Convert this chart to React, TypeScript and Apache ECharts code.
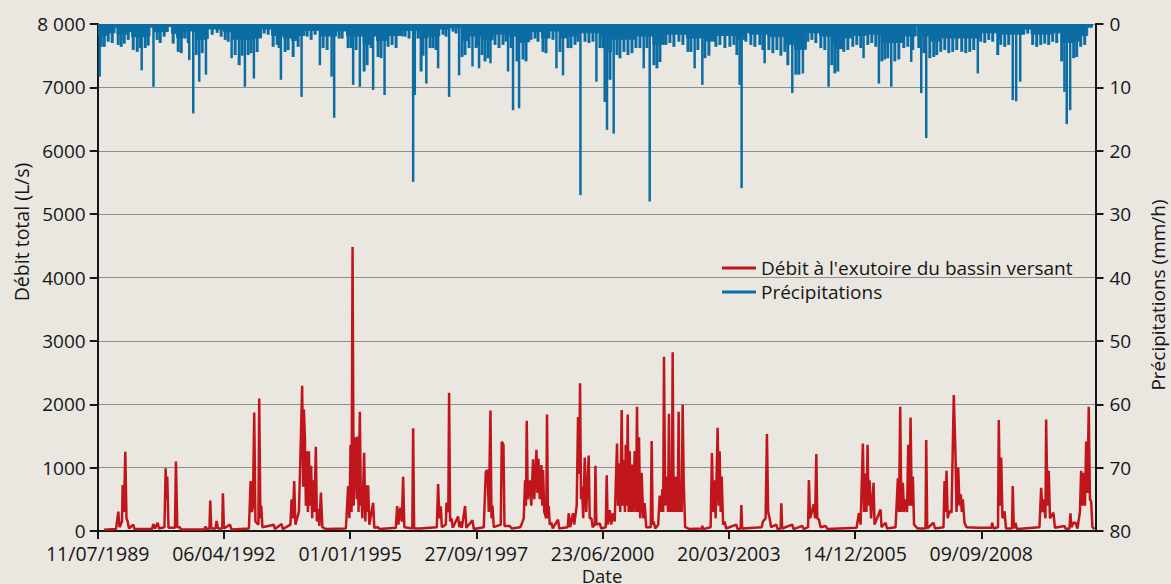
import React, { useEffect, useRef } from "react";
import * as echarts from "echarts";

// ---- data (time as decimal years) ----
const FLOW_NAME = "Débit à l'exutoire du bassin versant";
const PRECIP_NAME = "Précipitations";

const discharge: [number, number][] = [
  [1989.660,20],[1989.920,30],[1989.970,305],[1989.996,60],[1990.050,150],[1990.065,725],[1990.093,300],[1990.121,1250],[1990.147,200],[1990.173,150],[1990.202,40],[1990.295,100],[1990.321,30],
  [1990.700,30],[1990.728,110],[1990.765,40],[1990.824,130],[1990.852,40],[1990.971,60],[1990.997,990],[1991.014,500],[1991.032,860],[1991.058,50],[1991.199,50],[1991.220,1095],[1991.249,60],[1991.307,60],[1991.329,25],
  [1991.827,25],[1991.864,70],[1991.892,25],[1991.947,40],[1991.964,480],[1991.986,40],[1992.077,40],[1992.103,160],[1992.131,40],[1992.224,40],[1992.239,595],[1992.261,40],[1992.391,100],[1992.424,25],
  [1992.803,40],[1992.840,790],[1992.868,300],[1992.890,400],[1992.918,1870],[1992.944,150],[1993.009,100],[1993.026,2090],[1993.052,200],[1993.070,400],[1993.096,60],[1993.345,100],[1993.367,30],[1993.512,110],[1993.540,30],
  [1993.703,100],[1993.729,500],[1993.757,200],[1993.785,790],[1993.811,100],[1993.887,300],[1993.919,1150],[1993.958,2290],[1993.980,700],[1993.995,1920],[1994.017,1500],[1994.039,400],[1994.060,1260],[1994.082,300],[1994.104,1260],[1994.125,400],[1994.153,1030],[1994.175,200],[1994.197,800],[1994.223,300],[1994.255,1330],[1994.277,150],[1994.305,350],[1994.331,80],[1994.364,605],[1994.396,60],[1994.472,30],
  [1994.906,40],[1994.956,710],[1994.982,200],[1995.008,1360],[1995.029,300],[1995.051,4480],[1995.075,400],[1995.101,1100],[1995.122,1480],[1995.144,500],[1995.159,1490],[1995.181,300],[1995.209,1880],[1995.231,400],[1995.246,600],[1995.263,200],[1995.302,1235],[1995.328,150],[1995.354,720],[1995.372,300],[1995.389,720],[1995.415,100],[1995.497,445],[1995.523,50],[1995.599,60],[1995.643,30],
  [1995.990,50],[1996.018,395],[1996.044,100],[1996.087,370],[1996.120,150],[1996.148,857],[1996.174,60],[1996.347,40],[1996.365,1620],[1996.386,40],[1996.510,40],
  [1996.878,60],[1996.907,740],[1996.933,200],[1996.965,390],[1996.987,60],[1997.074,100],[1997.089,450],[1997.128,300],[1997.145,2180],[1997.167,150],[1997.197,200],[1997.225,50],[1997.340,230],[1997.366,60],[1997.392,150],[1997.420,50],[1997.492,395],[1997.518,50],[1997.652,170],[1997.680,30],
  [1997.897,60],[1997.941,935],[1997.977,960],[1998.006,300],[1998.042,1900],[1998.064,200],[1998.086,400],[1998.114,60],[1998.266,100],[1998.287,1410],[1998.324,1360],[1998.346,80],[1998.461,80],[1998.504,40],
  [1998.688,60],[1998.715,100],[1998.764,200],[1998.793,800],[1998.812,400],[1998.829,1740],[1998.851,500],[1998.894,800],[1998.927,400],[1998.966,1130],[1998.992,500],[1999.040,1280],[1999.061,600],[1999.083,1140],[1999.111,500],[1999.148,1040],[1999.165,400],[1999.183,960],[1999.209,300],[1999.252,200],[1999.269,1840],[1999.289,200],[1999.306,395],[1999.328,100],[1999.365,130],[1999.393,40],[1999.508,180],[1999.534,40],
  [1999.718,60],[1999.740,280],[1999.772,60],[1999.833,280],[1999.859,100],[1999.913,400],[1999.942,1800],[1999.968,900],[1999.985,2330],[2000.007,500],[2000.028,700],[2000.054,200],[2000.087,1160],[2000.119,300],[2000.173,1190],[2000.195,200],[2000.232,200],[2000.260,60],[2000.304,100],[2000.319,1030],[2000.340,100],[2000.412,120],[2000.444,40],
  [2000.542,60],[2000.564,880],[2000.585,100],[2000.629,330],[2000.661,100],[2000.700,280],[2000.737,150],[2000.787,1380],[2000.809,400],[2000.830,1070],[2000.856,300],[2000.889,1910],[2000.911,400],[2000.939,1120],[2000.958,300],[2000.976,1360],[2000.997,400],[2001.019,1840],[2001.041,300],[2001.062,1260],[2001.088,300],[2001.112,1050],[2001.138,300],[2001.171,1260],[2001.197,300],[2001.221,1960],[2001.242,300],[2001.264,1480],[2001.290,200],[2001.322,920],[2001.355,200],[2001.387,440],[2001.420,60],
  [2001.518,60],[2001.539,1420],[2001.561,100],[2001.583,150],[2001.615,40],[2001.680,100],[2001.713,560],[2001.745,300],[2001.771,660],[2001.789,300],[2001.806,2750],[2001.832,400],[2001.871,860],[2001.893,300],[2001.914,1850],[2001.936,300],[2001.962,860],[2001.977,300],[2001.994,2820],[2002.016,300],[2002.038,860],[2002.059,300],[2002.081,860],[2002.103,300],[2002.124,1880],[2002.146,300],[2002.168,800],[2002.190,300],[2002.211,1990],[2002.233,800],[2002.265,60],[2002.363,30],
  [2002.623,40],[2002.638,80],[2002.656,30],[2002.818,60],[2002.846,1230],[2002.872,300],[2002.894,800],[2002.927,200],[2002.970,1630],[2002.992,400],[2003.013,1260],[2003.035,300],[2003.057,860],[2003.089,100],[2003.122,150],[2003.154,40],[2003.375,100],[2003.403,30],[2003.469,40],[2003.484,410],[2003.501,40],
  [2003.924,60],[2003.952,150],[2004.010,200],[2004.039,1530],[2004.065,300],[2004.097,200],[2004.130,60],[2004.242,100],[2004.271,30],[2004.336,40],[2004.351,437],[2004.368,40],[2004.589,100],[2004.617,30],[2004.806,80],[2004.834,30],
  [2004.932,60],[2004.949,805],[2004.975,200],[2005.008,290],[2005.051,420],[2005.084,200],[2005.110,1215],[2005.131,200],[2005.166,180],[2005.203,60],[2005.311,80],[2005.355,30],
  [2005.983,50],[2006.033,280],[2006.070,100],[2006.120,1380],[2006.146,300],[2006.172,905],[2006.196,300],[2006.222,1360],[2006.243,400],[2006.265,800],[2006.298,200],[2006.352,760],[2006.373,100],[2006.503,340],[2006.525,60],[2006.612,130],[2006.644,40],
  [2006.829,60],[2006.879,830],[2006.904,300],[2006.930,1960],[2006.954,300],[2006.987,760],[2007.013,300],[2007.045,500],[2007.078,300],[2007.104,1360],[2007.128,400],[2007.154,1790],[2007.180,400],[2007.204,860],[2007.230,100],[2007.306,40],[2007.479,40],[2007.494,1435],[2007.516,40],[2007.652,130],[2007.685,40],
  [2007.869,60],[2007.891,790],[2007.912,300],[2007.934,950],[2007.960,200],[2007.999,315],[2008.043,290],[2008.092,2145],[2008.129,1200],[2008.151,300],[2008.188,1000],[2008.216,400],[2008.244,580],[2008.266,300],[2008.288,500],[2008.324,130],[2008.368,60],[2008.606,50],
  [2008.910,50],[2008.925,130],[2008.953,40],[2009.051,60],[2009.068,1750],[2009.094,400],[2009.120,1160],[2009.148,200],[2009.192,315],[2009.224,40],[2009.354,40],[2009.371,710],[2009.393,40],[2009.430,130],[2009.462,30],
  [2009.950,60],[2009.987,680],[2010.015,300],[2010.048,500],[2010.080,200],[2010.095,1760],[2010.124,400],[2010.152,950],[2010.178,200],[2010.254,290],[2010.286,50],[2010.492,80],[2010.525,30],[2010.601,40],[2010.622,280],[2010.644,60],[2010.687,130],[2010.731,130],[2010.774,40],[2010.828,300],[2010.854,950],[2010.882,400],[2010.904,920],[2010.937,400],[2010.963,1410],[2010.991,600],[2011.019,1960],[2011.045,500],[2011.071,470],[2011.099,60],[2011.142,30],
];

// near-continuous light precipitation (mm/h)
const precipBand: [number, number][] = [
  [1989.530,1.8],[1989.595,1.8],[1989.718,1.4],[1989.898,0.5],[1989.941,1.6],[1990.152,1.2],[1990.260,2.0],[1990.512,1.9],[1990.657,0.5],[1990.733,1.2],[1991.054,0.4],[1991.127,1.5],[1991.236,2.2],[1991.379,1.1],[1991.654,2.4],[1991.849,2.3],[1991.921,0.8],[1992.246,1.2],[1992.428,2.4],[1992.571,2.5],[1992.753,2.4],[1992.933,2.2],[1993.078,0.8],[1993.295,1.8],[1993.546,2.2],[1993.729,2.6],[1993.837,1.8],[1994.017,1.0],[1994.342,1.9],[1994.704,1.1],[1994.921,1.9],[1995.281,3.2],[1995.426,1.9],[1995.571,2.6],[1995.788,1.8],[1996.076,1.9],[1996.148,1.0],[1996.510,2.2],[1996.683,1.9],[1996.943,0.8],[1997.160,0.6],[1997.414,2.6],[1997.557,1.9],[1997.847,2.5],[1998.099,1.6],[1998.461,1.9],[1998.606,2.9],[1998.715,2.8],[1998.894,1.2],[1999.148,2.2],[1999.291,1.1],[1999.545,2.2],[1999.690,1.9],[1999.907,1.4],[2000.412,1.9],[2000.607,4.4],[2000.672,2.4],[2001.171,1.9],[2001.566,3.2],[2001.821,1.6],[2002.291,2.2],[2002.688,2.7],[2002.905,1.8],[2003.375,2.4],[2003.555,1.4],[2003.664,1.6],[2004.060,2.0],[2004.459,3.2],[2004.639,4.0],[2004.893,1.4],[2005.181,1.9],[2005.435,3.2],[2005.543,3.9],[2005.686,2.2],[2005.868,1.8],[2006.193,1.6],[2006.519,2.9],[2006.807,2.9],[2006.987,1.9],[2007.277,0.3],[2007.312,1.9],[2007.566,2.7],[2007.782,2.2],[2008.650,1.4],[2009.046,2.4],[2009.083,1.6],[2009.588,0.8],[2009.770,1.6],[2010.204,1.4],[2010.421,2.9],[2010.666,2.7],[2010.817,1.8],[2010.997,0.5],[2011.099,0],
];

// frequent moderate showers (mm/h)
const precipShowers: [number, number][] = [
  [1989.594,3.6],[1989.660,3.6],[1989.746,2.8],[1989.833,3.0],[1989.963,3.3],[1990.028,3.6],[1990.093,3.1],[1990.180,2.5],[1990.288,4.1],[1990.375,4.4],[1990.440,3.8],[1990.548,3.8],[1990.613,3.4],[1990.808,2.5],[1990.874,3.0],[1990.960,2.0],
  [1991.155,3.1],[1991.264,4.4],[1991.329,4.6],[1991.415,2.3],[1991.481,3.0],[1991.654,4.9],[1991.784,4.6],[1992.001,1.7],[1992.109,1.4],[1992.196,2.0],[1992.283,2.5],[1992.348,2.8],[1992.499,4.9],[1992.586,6.5],[1992.651,5.0],[1992.781,4.9],[1992.846,4.6],[1992.976,4.4],
  [1993.128,1.5],[1993.215,1.7],[1993.323,3.6],[1993.410,3.3],[1993.453,3.8],[1993.583,4.4],[1993.648,4.1],[1993.757,5.2],[1993.865,3.6],[1994.060,2.0],[1994.147,2.5],[1994.234,1.7],[1994.407,3.8],[1994.494,4.1],[1994.754,2.3],[1994.819,2.3],[1994.949,3.8],
  [1995.014,3.8],[1995.122,4.1],[1995.296,7.5],[1995.361,6.5],[1995.448,3.8],[1995.599,5.2],[1995.664,5.4],[1995.816,3.6],[1995.903,3.3],[1995.990,3.8],[1996.185,2.0],[1996.271,2.3],[1996.466,2.3],[1996.532,7.5],[1996.575,5.0],[1996.727,3.8],[1996.792,3.8],[1996.857,4.1],
  [1997.008,1.7],[1997.073,2.0],[1997.225,1.2],[1997.290,1.5],[1997.420,5.2],[1997.485,4.9],[1997.572,3.8],[1997.724,3.8],[1997.767,3.6],[1997.854,4.9],[1997.919,5.9],[1997.984,5.4],[1998.136,3.3],[1998.222,3.8],[1998.309,3.3],[1998.374,2.8],[1998.483,3.8],[1998.613,5.9],[1998.743,5.6],[1998.808,5.9],[1998.916,2.5],
  [1999.003,2.3],[1999.068,2.8],[1999.176,4.4],[1999.241,4.6],[1999.306,2.3],[1999.393,2.5],[1999.545,4.4],[1999.718,3.8],[1999.783,3.8],[1999.870,3.3],[1999.935,2.8],[2000.087,2.8],[2000.173,3.0],[2000.260,2.8],[2000.412,3.8],[2000.477,3.8],[2000.629,8.8],[2000.780,4.9],[2000.845,5.4],[2000.932,4.4],
  [2001.019,4.9],[2001.106,4.6],[2001.192,3.8],[2001.279,3.8],[2001.431,3.8],[2001.583,6.5],[2001.648,7.0],[2001.713,6.0],[2001.843,3.3],[2001.929,3.0],[2002.016,3.6],[2002.124,2.8],[2002.211,3.3],[2002.320,4.4],[2002.385,4.4],[2002.536,4.1],[2002.688,5.4],[2002.775,5.0],[2002.927,3.6],
  [2003.013,3.3],[2003.122,3.8],[2003.230,3.6],[2003.317,3.3],[2003.382,4.9],[2003.577,2.8],[2003.685,3.3],[2003.772,3.6],[2003.880,3.3],[2003.945,4.1],[2004.075,4.1],[2004.162,4.6],[2004.249,4.1],[2004.336,5.0],[2004.422,4.4],[2004.487,6.5],[2004.661,8.0],[2004.726,8.0],[2004.921,2.8],
  [2005.008,2.5],[2005.094,3.0],[2005.203,3.8],[2005.289,4.1],[2005.441,6.5],[2005.506,7.8],[2005.571,7.5],[2005.701,4.4],[2005.788,4.1],[2005.896,3.6],[2005.983,3.3],[2006.070,3.8],[2006.222,3.3],[2006.308,3.0],[2006.395,3.6],[2006.525,5.9],[2006.590,5.6],[2006.655,5.4],[2006.807,5.9],[2006.894,5.6],
  [2007.002,3.8],[2007.089,3.6],[2007.197,4.1],[2007.327,3.8],[2007.436,4.6],[2007.566,5.4],[2007.652,5.2],[2007.717,4.9],[2007.804,4.4],[2007.891,4.1],[2007.978,4.6],[2008.064,4.4],[2008.151,4.1],[2008.259,4.4],[2008.346,4.6],[2008.433,4.4],[2008.520,4.1],[2008.671,2.8],[2008.758,3.0],[2008.845,2.5],[2008.931,2.8],
  [2009.040,4.9],[2009.105,3.3],[2009.192,3.6],[2009.278,3.3],[2009.603,1.7],[2009.690,1.5],[2009.798,3.3],[2009.885,3.6],[2009.972,3.3],[2010.059,3.1],[2010.145,3.3],[2010.232,2.8],[2010.319,3.0],[2010.427,5.9],[2010.687,5.4],[2010.752,5.2],[2010.839,3.6],[2010.926,3.3],
];

// individual intense precipitation events (mm/h)
const precipPeaks: [number, number][] = [
  [1989.566,8.3],[1990.477,7.3],[1990.733,9.9],[1991.509,5.7],[1991.595,14.1],[1991.726,9.1],[1991.871,8.0],[1992.428,5.4],[1992.716,9.9],[1992.911,8.6],[1993.497,8.8],[1993.945,11.5],[1994.342,6.5],[1994.596,8.3],[1994.652,14.8],[1995.064,9.6],[1995.209,9.9],[1995.497,10.4],[1995.745,11.2],[1996.365,24.9],[1996.401,11.2],[1996.651,9.4],[1996.907,7.0],[1997.145,11.5],[1997.362,8.1],[1997.652,6.7],[1997.795,7.0],[1998.042,6.2],[1998.424,7.5],[1998.532,13.6],[1998.663,13.3],[1999.473,7.0],[1999.616,8.1],[1999.994,27.0],[2000.340,9.1],[2000.520,12.3],[2000.570,16.7],[2000.715,17.3],[2001.366,7.0],[2001.496,28.0],[2002.471,7.0],[2002.638,9.6],[2003.447,9.6],[2003.490,25.9],[2003.989,6.2],[2004.589,10.9],[2004.819,7.8],[2005.376,9.9],[2006.135,5.4],[2006.467,9.4],[2006.735,9.9],[2007.169,6.0],[2007.386,10.9],[2007.494,18.0],[2008.613,7.8],[2009.371,12.0],[2009.445,12.2],[2009.532,9.1],[2010.492,10.7],[2010.542,15.8],[2010.616,13.6],
];

const xTickDays = [0, 1000, 2000, 3000, 4000, 5000, 6000, 7000];
const X_MAX_DAYS = 7905;

// ---- helpers ----
const START_YEAR = 1989.523; // 11/07/1989
const START_MS = Date.UTC(1989, 6, 11);
const DAY_MS = 86400000;
const toDays = (t: number) => (t - START_YEAR) * 365.25;
const pad = (n: number) => (n < 10 ? "0" + n : String(n));
const fmtDay = (d: number) => {
  const dt = new Date(START_MS + Math.round(d) * DAY_MS);
  return pad(dt.getUTCDate()) + "/" + pad(dt.getUTCMonth() + 1) + "/" + dt.getUTCFullYear();
};

const RED = "#c0161b";
const BLUE = "#0b6da3";
const BG = "#eae7e1";
const INK = "#161616";
const FONT = "'Open Sans', 'Noto Sans', 'DejaVu Sans', sans-serif";

export default function App() {
  const ref = useRef<HTMLDivElement>(null);
  useEffect(() => {
    if (!ref.current) return;
    const chart = echarts.init(ref.current, undefined, { renderer: "svg" });
    chart.setOption({
      animation: false,
      backgroundColor: BG,
      textStyle: { fontFamily: FONT },
      grid: { left: 97.7, right: 75.5, top: 24, bottom: 53, containLabel: false, outerBoundsMode: "none" },
      legend: {
        left: 717,
        top: 252,
        orient: "vertical",
        itemWidth: 34,
        itemHeight: 3,
        itemGap: 2,
        selectedMode: false,
        textStyle: { fontSize: 19, color: INK, fontFamily: FONT, lineHeight: 22 },
        data: [
          { name: FLOW_NAME, icon: "rect", itemStyle: { color: RED } },
          { name: PRECIP_NAME, icon: "rect", itemStyle: { color: BLUE } },
        ],
      },
      xAxis: {
        type: "value",
        min: 0,
        max: X_MAX_DAYS,
        splitLine: { show: false },
        axisLine: { show: true, onZero: false, lineStyle: { color: INK, width: 2 } },
        axisTick: { show: true, length: 8, customValues: xTickDays, lineStyle: { color: INK, width: 2 } },
        axisLabel: {
          customValues: xTickDays,
          margin: 13,
          fontSize: 19.5,
          lineHeight: 19,
          color: INK,
          fontFamily: FONT,
          formatter: (v: number) => fmtDay(v),
        },
      },
      yAxis: [
        {
          type: "value",
          position: "left",
          min: 0,
          max: 8000,
          interval: 1000,
          axisLine: { show: true, lineStyle: { color: INK, width: 2 } },
          axisTick: { show: true, length: 8, lineStyle: { color: INK, width: 2 } },
          axisLabel: {
            margin: 12,
            fontSize: 19,
            lineHeight: 19,
            color: INK,
            fontFamily: FONT,
            formatter: (v: number) => (v === 8000 ? "8 000" : String(v)),
          },
          splitLine: { show: true, lineStyle: { color: "#8e8e8e", width: 1 } },
        },
        {
          type: "value",
          position: "right",
          inverse: true,
          min: 0,
          max: 80,
          interval: 10,
          axisLine: { show: true, lineStyle: { color: INK, width: 2 } },
          axisTick: { show: true, length: 8, lineStyle: { color: INK, width: 2 } },
          axisLabel: { margin: 14, fontSize: 19, lineHeight: 19, color: INK, fontFamily: FONT },
          splitLine: { show: false },
        },
      ],
      graphic: [
        {
          type: "text",
          x: 21,
          y: 232,
          rotation: Math.PI / 2,
          style: { text: "Débit total (L/s)", fontSize: 19.5, fontFamily: FONT, fill: INK, align: "center", verticalAlign: "middle" },
        },
        {
          type: "text",
          x: 1158,
          y: 295,
          rotation: Math.PI / 2,
          style: { text: "Précipitations (mm/h)", fontSize: 19, fontFamily: FONT, fill: INK, align: "center", verticalAlign: "middle" },
        },
        {
          type: "text",
          x: 602,
          y: 584,
          style: { text: "Date", fontSize: 18.5, lineHeight: 18, fontFamily: FONT, fill: INK, align: "center", verticalAlign: "bottom" },
        },
      ],
      series: [
        {
          name: PRECIP_NAME,
          type: "line",
          yAxisIndex: 1,
          step: "end",
          symbol: "none",
          lineStyle: { color: BLUE, width: 1 },
          itemStyle: { color: BLUE },
          areaStyle: { color: BLUE, opacity: 1 },
          data: precipBand.map(([t, v]) => [toDays(t), v]),
          z: 2,
        },
        {
          name: PRECIP_NAME,
          type: "bar",
          yAxisIndex: 1,
          barWidth: 3,
          itemStyle: { color: BLUE },
          data: precipShowers.map(([t, v]) => [toDays(t), v]),
          z: 2,
        },
        {
          name: PRECIP_NAME,
          type: "bar",
          yAxisIndex: 1,
          barWidth: 2.5,
          barGap: "-100%",
          itemStyle: { color: BLUE },
          data: precipPeaks.map(([t, v]) => [toDays(t), v]),
          z: 2,
        },
        {
          name: FLOW_NAME,
          type: "line",
          yAxisIndex: 0,
          symbol: "none",
          lineStyle: { color: RED, width: 2.5 },
          itemStyle: { color: RED },
          data: discharge.map(([t, v]) => [toDays(t), v]),
          z: 3,
        },
      ],
    });
    return () => chart.dispose();
  }, []);
  return (
    <div
      ref={ref}
      style={{ position: "fixed", left: 0, top: 0, width: 1171, height: 584, background: BG }}
    />
  );
}
